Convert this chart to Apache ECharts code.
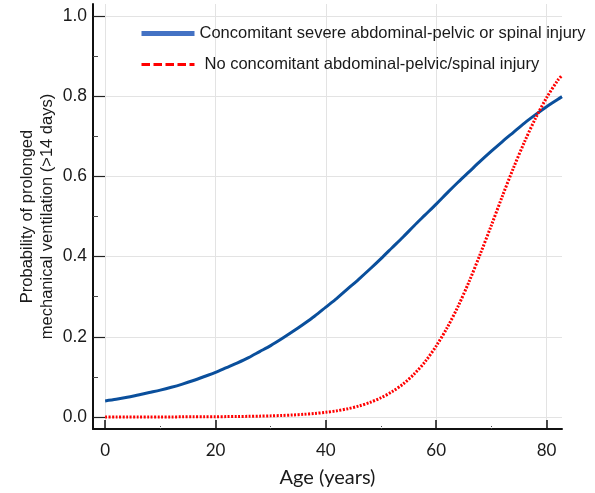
<!DOCTYPE html>
<html><head><meta charset="utf-8">
<script src="https://cdn.jsdelivr.net/npm/echarts@6/dist/echarts.min.js"></script>
<style>html,body{margin:0;padding:0;background:#fff}#c{width:595px;height:493px}</style>
</head><body><div id="c"></div>
<script>
const ages = [0,2,4,6,8,10,12,14,16,18,20,22,24,26,28,30,32,34,36,38,40,42,44,46,48,50,52,54,56,58,60,62,64,66,68,70,72,74,76,78,80,82,82.8];
const withInjury = [0.040,0.044,0.049,0.055,0.061,0.067,0.074,0.082,0.091,0.101,0.111,0.123,0.135,0.148,0.163,0.178,0.195,0.213,0.232,0.252,0.274,0.296,0.320,0.344,0.369,0.395,0.422,0.449,0.477,0.504,0.531,0.559,0.586,0.612,0.638,0.663,0.687,0.710,0.733,0.754,0.774,0.792,0.799];
const noInjury = [0.0000,0.0000,0.0001,0.0001,0.0001,0.0002,0.0002,0.0003,0.0004,0.0005,0.0006,0.0009,0.0012,0.0016,0.0021,0.0028,0.0037,0.0049,0.0066,0.0088,0.0117,0.0155,0.0206,0.0274,0.0363,0.048,0.063,0.082,0.107,0.138,0.177,0.223,0.277,0.339,0.407,0.478,0.551,0.621,0.686,0.745,0.796,0.839,0.852];
const seriesNames = ['Concomitant severe abdominal-pelvic or spinal injury','No concomitant abdominal-pelvic/spinal injury'];
const xTickLabels = [0,20,40,60,80];
const xMinorTicks = [10,30,50,70];
const yTickLabels = [0,0.2,0.4,0.6,0.8,1.0];
const yMinorTicks = [0.1,0.3,0.5,0.7,0.9];

const chart = echarts.init(document.getElementById('c'), null, {renderer:'canvas'});
const arial = '"Liberation Sans", Arial, sans-serif';
const lato = 'Lato, "Open Sans", sans-serif';
const xMin = -2.2, xMax = 82.8, yMin = -0.03, yMax = 1.03;
const gridLine = {show:true, lineStyle:{color:'#e3e3e3', width:1}};
chart.setOption({
  animation:false,
  backgroundColor:'#fff',
  grid:{left:93, right:33, top:4, bottom:59},
  legend:{
    orient:'vertical', left:134, top:20, itemWidth:53, itemHeight:14, itemGap:14,
    textStyle:{fontFamily:arial, fontSize:16.5, color:'#1a1a1a'},
    data:[
      {name:seriesNames[0], itemStyle:{opacity:0}, lineStyle:{color:'#4472C4', width:5, type:'solid'}},
      {name:seriesNames[1], itemStyle:{opacity:0}, lineStyle:{color:'#FF0000', width:3, type:[8.5,3.5]}, textStyle:{padding:[0,0,0,5]}}
    ]
  },
  xAxis:[{
    type:'value', min:xMin, max:xMax, position:'bottom',
    axisLine:{show:true, onZero:false, lineStyle:{color:'#111', width:2}},
    axisTick:{show:true, inside:true, length:9, lineStyle:{color:'#111', width:1.5}, customValues:xTickLabels},
    axisLabel:{customValues:xTickLabels, fontFamily:lato, fontSize:17, color:'#1a1a1a', margin:13},
    splitLine:gridLine,
    name:'Age (years)', nameLocation:'middle', nameGap:39,
    nameTextStyle:{fontFamily:lato, fontSize:20, color:'#1a1a1a'}
  },{
    type:'value', min:xMin, max:xMax, position:'bottom',
    axisLine:{show:false, onZero:false},
    axisTick:{show:true, inside:true, length:4, lineStyle:{color:'#444', width:1, type:[1,1]}, customValues:xMinorTicks},
    axisLabel:{show:false}, splitLine:{show:false}
  }],
  yAxis:[{
    type:'value', min:yMin, max:yMax, position:'left',
    axisLine:{show:true, onZero:false, lineStyle:{color:'#111', width:2}},
    axisTick:{show:true, inside:true, length:12, lineStyle:{color:'#222', width:1.2}, customValues:yTickLabels},
    axisLabel:{customValues:yTickLabels, fontFamily:arial, fontSize:17.5, color:'#1a1a1a', margin:6,
      formatter:v=>v.toFixed(1)},
    splitLine:gridLine,
    name:'Probability of prolonged\nmechanical ventilation (>14 days)', nameLocation:'middle', nameGap:36,
    nameMoveOverlap:false,
    nameTextStyle:{fontFamily:arial, fontSize:16.5, color:'#1a1a1a', lineHeight:20}
  },{
    type:'value', min:yMin, max:yMax, position:'left',
    axisLine:{show:false, onZero:false},
    axisTick:{show:true, inside:true, length:5, lineStyle:{color:'#444', width:1}, customValues:yMinorTicks},
    axisLabel:{show:false}, splitLine:{show:false}
  }],
  series:[
    {name:seriesNames[0], type:'line', xAxisIndex:0, yAxisIndex:0, showSymbol:false, symbol:'none', smooth:0.3,
     lineStyle:{color:'#0A4F9C', width:3}, itemStyle:{color:'#0A4F9C'},
     data:ages.map((a,i)=>[a,withInjury[i]])},
    {name:seriesNames[1], type:'line', xAxisIndex:0, yAxisIndex:0, showSymbol:false, symbol:'none', smooth:0.3,
     lineStyle:{color:'#FF0000', width:3, type:[2,1.5]}, itemStyle:{color:'#FF0000'},
     data:ages.map((a,i)=>[a,noInjury[i]])}
  ]
});
</script></body></html>
